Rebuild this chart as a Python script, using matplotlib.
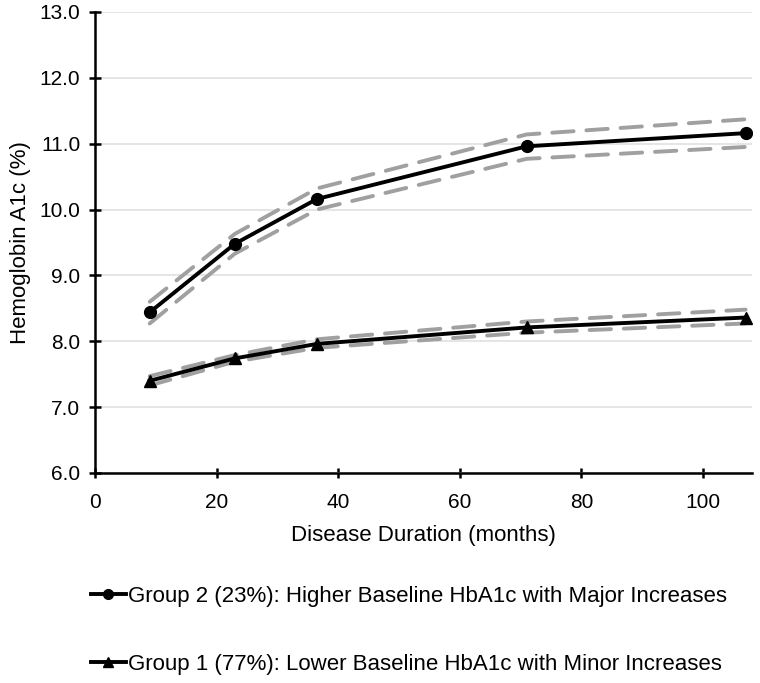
import numpy as np
import matplotlib.pyplot as plt
from matplotlib.lines import Line2D

plt.rcParams['font.family'] = ['Liberation Sans', 'DejaVu Sans']

# disease duration (months) at each estimate
months = [9, 23, 36.5, 71, 107]

# group 2: higher baseline, major increases
g2 = [8.44, 9.48, 10.16, 10.96, 11.16]
g2_upper = [8.60, 9.63, 10.32, 11.14, 11.37]
g2_lower = [8.27, 9.33, 10.00, 10.77, 10.95]

# group 1: lower baseline, minor increases
g1 = [7.40, 7.74, 7.96, 8.21, 8.36]
g1_upper = [7.47, 7.79, 8.03, 8.30, 8.48]
g1_lower = [7.33, 7.69, 7.90, 8.13, 8.27]

g2_label = "Group 2 (23%): Higher Baseline HbA1c with Major Increases"
g1_label = "Group 1 (77%): Lower Baseline HbA1c with Minor Increases"

fig = plt.figure(figsize=(7.6, 6.83), dpi=100)
ax = fig.add_axes([0.125, 0.3075, 0.864, 0.675])

dash_kw = dict(color='#a0a0a0', lw=2.8, linestyle=(0, (5.5, 3.3)), dash_capstyle='round')
for band in (g2_upper, g2_lower, g1_upper, g1_lower):
    ax.plot(months, band, **dash_kw)

ax.plot(months, g2, color='black', lw=2.8, marker='o', markersize=8.5)
ax.plot(months, g1, color='black', lw=2.8, marker='^', markersize=8.5)

ax.set_xlim(0, 108)
ax.set_ylim(6, 13)
ax.set_xticks([0, 20, 40, 60, 80, 100])
ax.set_yticks(np.arange(6, 13.5, 1))
ax.set_yticklabels([f"{v:.1f}" for v in np.arange(6, 13.5, 1)])
ax.yaxis.grid(True, color='#e0e0e0', lw=1.2)
ax.set_axisbelow(True)
for s in ('top', 'right'):
    ax.spines[s].set_visible(False)
for s in ('left', 'bottom'):
    ax.spines[s].set_linewidth(1.8)
ax.tick_params(axis='both', labelsize=15, width=1.8, direction='inout')
ax.tick_params(axis='x', length=7, pad=11)
ax.tick_params(axis='y', length=9, pad=6)
ax.set_xlabel("Disease Duration (months)", fontsize=16, labelpad=9)
ax.set_ylabel("Hemoglobin A1c (%)", fontsize=16, labelpad=6)

# legend stacked below the axes
h2 = Line2D([], [], color='black', lw=2.8, marker='o', markersize=7)
h1 = Line2D([], [], color='black', lw=2.8, marker='^', markersize=7)
leg = fig.legend([h2, h1], [g2_label, g1_label], loc='center left',
                 frameon=False, fontsize=16, handlelength=1.6, handletextpad=0.1,
                 labelspacing=2.1)
leg.set_bbox_to_anchor((0.093, 0.077), transform=fig.transFigure)

fig.savefig("out.png", dpi=100)
